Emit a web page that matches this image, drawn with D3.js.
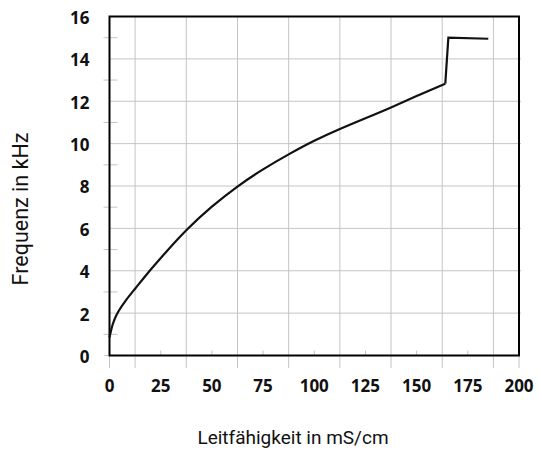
<!DOCTYPE html>
<html>
<head>
<meta charset="utf-8">
<script src="https://cdn.jsdelivr.net/npm/d3@7"></script>
<style>
  html, body { margin: 0; padding: 0; background: #fff; }
  svg { display: block; }
</style>
</head>
<body>
<svg id="chart" width="539" height="450"></svg>
<script>
// ---- data ----
const conductivity = [0, 1, 2, 4, 8, 12.5, 18, 25, 37.5, 50, 62.5, 75, 87.5, 100, 112.5, 125, 137.5, 150, 164, 165.5, 185];
const frequency    = [0.85, 1.3, 1.62, 2.05, 2.62, 3.15, 3.82, 4.6, 5.95, 7.05, 8.0, 8.8, 9.5, 10.15, 10.7, 11.2, 11.7, 12.25, 12.83, 15.0, 14.95];
const breakIndex = 18; // smooth part ends here, then straight steps
const xTickLabels = [0, 25, 50, 75, 100, 125, 150, 175, 200];
const xGridValues = [12.5, 37.5, 62.5, 87.5, 112.5, 137.5, 162.5, 187.5];
const yTickLabels = [0, 2, 4, 6, 8, 10, 12, 14, 16];
const yMinorTicks = [1, 3, 5, 7, 9, 11, 13, 15];
const xTitle = "Leitfähigkeit in mS/cm";
const yTitle = "Frequenz in kHz";

// ---- layout ----
const L = 109.5, R = 519, T = 16.5, B = 355.5;
const svg = d3.select("#chart");
const x = d3.scaleLinear().domain([0, 200]).range([L, R]);
const y = d3.scaleLinear().domain([0, 16]).range([B, T]);
const grid = "#c4c4c4";

const g = svg.append("g");

// vertical grid lines (extend below axis)
g.selectAll(".vg").data(xGridValues).join("line")
  .attr("x1", d => x(d)).attr("x2", d => x(d))
  .attr("y1", T).attr("y2", B + 12.5)
  .attr("stroke", grid).attr("stroke-width", 1);

// ticks at 0 and 200 below axis
g.selectAll(".ve").data([0, 200]).join("line")
  .attr("x1", d => x(d)).attr("x2", d => x(d))
  .attr("y1", B).attr("y2", B + 12.5)
  .attr("stroke", grid).attr("stroke-width", 1);

// short inner ticks at labelled x values
g.selectAll(".vt").data(xTickLabels.filter(d => d > 0 && d < 200)).join("line")
  .attr("x1", d => x(d)).attr("x2", d => x(d))
  .attr("y1", B - 5).attr("y2", B)
  .attr("stroke", grid).attr("stroke-width", 1);

// horizontal grid lines at even values
g.selectAll(".hg").data(yTickLabels.filter(d => d > 0 && d < 16)).join("line")
  .attr("x1", L).attr("x2", R + 2)
  .attr("y1", d => y(d)).attr("y2", d => y(d))
  .attr("stroke", grid).attr("stroke-width", 1);

// minor ticks at odd values crossing axis
g.selectAll(".ht").data(yMinorTicks).join("line")
  .attr("x1", L - 6).attr("x2", L + 8)
  .attr("y1", d => y(d)).attr("y2", d => y(d))
  .attr("stroke", grid).attr("stroke-width", 1);

// tick at y=0 left
g.append("line")
  .attr("x1", L - 5).attr("x2", L)
  .attr("y1", y(0)).attr("y2", y(0))
  .attr("stroke", grid).attr("stroke-width", 1);

// frame
g.append("rect")
  .attr("x", L).attr("y", T).attr("width", R - L).attr("height", B - T)
  .attr("fill", "none").attr("stroke", "#000").attr("stroke-width", 2);

// data line
const pts = conductivity.map((c, i) => [c, frequency[i]]);
const smooth = d3.line().x(d => x(d[0])).y(d => y(d[1])).curve(d3.curveBasis);
const straight = d3.line().x(d => x(d[0])).y(d => y(d[1])).curve(d3.curveLinear);
g.append("path").attr("d", smooth(pts.slice(0, breakIndex + 1)))
  .attr("fill", "none").attr("stroke", "#111").attr("stroke-width", 2.2)
  .attr("stroke-linejoin", "round");
g.append("path").attr("d", straight(pts.slice(breakIndex)))
  .attr("fill", "none").attr("stroke", "#111").attr("stroke-width", 2.2)
  .attr("stroke-linejoin", "miter");

// tick labels
const tickFont = "'Open Sans', sans-serif";
const titleFont = "Roboto, sans-serif";
g.selectAll(".xl").data(xTickLabels).join("text")
  .attr("x", d => x(d)).attr("y", B + 36)
  .attr("text-anchor", "middle")
  .attr("font-family", tickFont).attr("font-weight", "bold").attr("font-size", 17)
  .attr("fill", "#111")
  .text(d => d);

g.selectAll(".yl").data(yTickLabels).join("text")
  .attr("x", L - 20).attr("y", d => y(d) + 1.5)
  .attr("dy", "0.35em")
  .attr("text-anchor", "end")
  .attr("font-family", tickFont).attr("font-weight", "bold").attr("font-size", 17)
  .attr("fill", "#111")
  .text(d => d);

// axis titles
g.append("text")
  .attr("x", 293).attr("y", 444)
  .attr("text-anchor", "middle")
  .attr("font-family", titleFont).attr("font-size", 19)
  .attr("fill", "#111")
  .text(xTitle);

g.append("text")
  .attr("transform", "translate(28,209) rotate(-90)")
  .attr("text-anchor", "middle")
  .attr("font-family", titleFont).attr("font-size", 21.5)
  .attr("fill", "#111")
  .text(yTitle);
</script>
</body>
</html>
